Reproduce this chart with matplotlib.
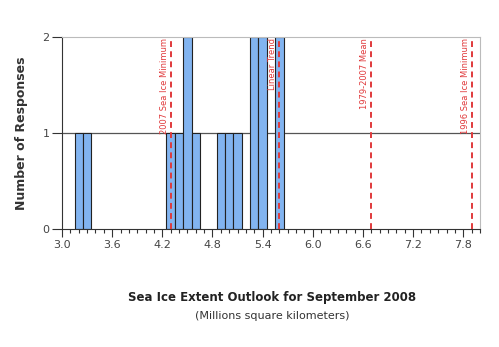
import numpy as np
import matplotlib.pyplot as plt
from matplotlib.ticker import MultipleLocator

# Outlook responses, binned in 0.1 million km^2
centros = [3.2, 3.3, 4.3, 4.4, 4.5, 4.6, 4.9, 5.0, 5.1, 5.3, 5.4, 5.6]
respuestas = [1, 1, 1, 1, 2, 1, 1, 1, 1, 2, 2, 2]

# Reference lines
ref_valores = [4.3, 5.6, 6.7, 7.9]
ref_textos = ['2007 Sea Ice Minimum', 'Linear Trend', '1979-2007 Mean', '1996 Sea Ice Minimum']

xticks = [3.0, 3.6, 4.2, 4.8, 5.4, 6.0, 6.6, 7.2, 7.8]

fig = plt.figure(figsize=(4.99, 3.47), dpi=100)
ax = fig.add_axes([62 / 499, 1 - 229 / 347, (480 - 62) / 499, (229 - 37) / 347])

ax.axhline(1, color='#555555', lw=0.9, zorder=1)
ax.bar(centros, respuestas, width=0.1, color='#82b4f0', edgecolor='#222222', linewidth=0.8, zorder=2)

for v, t in zip(ref_valores, ref_textos):
    ax.axvline(v, color='#e0393b', lw=1.4, ls=(0, (3, 2.2)), zorder=3)
    ax.text(v - 0.025, 1.99, t, rotation=90, ha='right', va='top', color='#e0393b',
            fontsize=6, zorder=4)

ax.set_xlim(3.0, 8.0)
ax.set_ylim(0, 2)
ax.set_xticks(xticks)
ax.set_xticklabels([f'{v:.1f}' for v in xticks])
ax.xaxis.set_minor_locator(MultipleLocator(0.1))
ax.set_yticks([0, 1, 2])

ax.tick_params(axis='x', which='major', length=6, width=0.8, color='#333333', labelsize=8,
               labelcolor='#444444', pad=2)
ax.tick_params(axis='x', which='minor', length=3, width=0.8, color='#333333')
ax.tick_params(axis='y', length=7, width=0.8, color='#333333', labelsize=8,
               labelcolor='#444444', pad=2)

for s in ['top', 'right']:
    ax.spines[s].set_color('#bbbbbb')
for s in ['left', 'bottom']:
    ax.spines[s].set_color('#333333')

ax.set_ylabel('Number of Responses', fontsize=9, fontweight='bold', color='#333333', labelpad=10)

fig.text(272 / 499, 1 - 298 / 347, 'Sea Ice Extent Outlook for September 2008', ha='center',
         va='center', fontsize=8.5, fontweight='bold', color='#222222')
fig.text(272 / 499, 1 - 316 / 347, '(Millions square kilometers)', ha='center', va='center',
         fontsize=8, color='#333333')

fig.savefig('out.png', dpi=100, facecolor='white')
